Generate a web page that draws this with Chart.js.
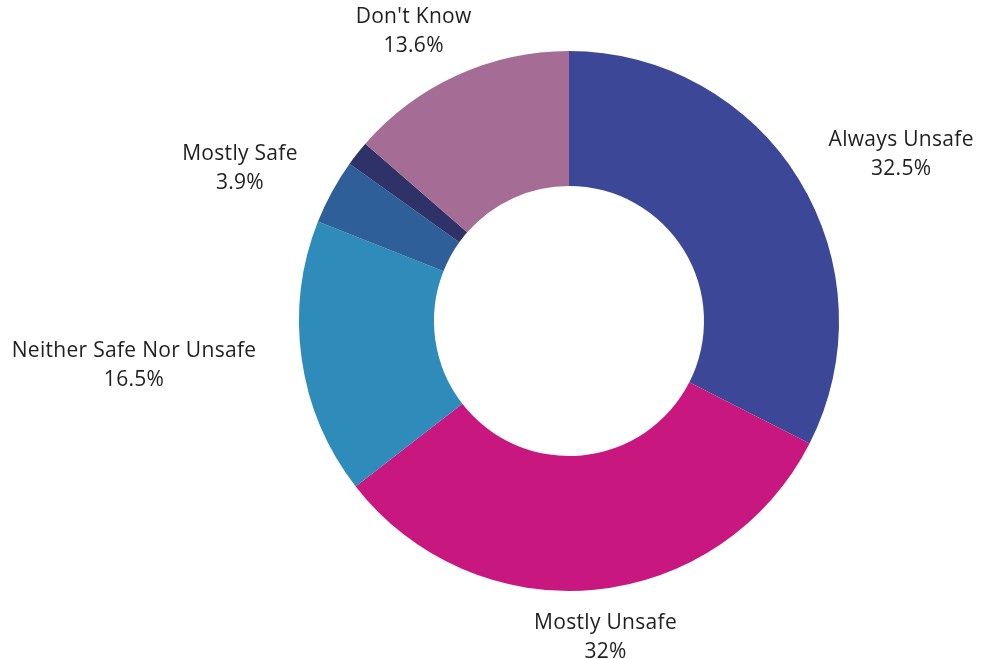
<!DOCTYPE html>
<html>
<head>
<meta charset="utf-8">
<script src="https://cdn.jsdelivr.net/npm/chart.js@4/dist/chart.umd.min.js"></script>
<style>
  html, body { margin: 0; padding: 0; background: #fff; }
  #wrap { width: 989px; height: 659px; position: relative; }
</style>
</head>
<body>
<div id="wrap"><canvas id="myChart"></canvas></div>
<script>
const categories = ['Always Unsafe', 'Mostly Unsafe', 'Neither Safe Nor Unsafe', 'Mostly Safe', '', "Don't Know"];
const shares = [32.5, 32, 16.5, 3.9, 1.5, 13.6];
const sliceColors = ['#3c4798', '#c8177f', '#2e8bba', '#2e5f98', '#2e3268', '#a56d96'];

const LABEL_FONT = '21px "Open Sans", sans-serif';
const LINE_H = 29;

// labels outside the ring; wider gap sideways than up/down
const outsideLabels = {
    id: 'outsideLabels',
    afterDatasetsDraw(chart) {
        const c = chart.ctx;
        const meta = chart.getDatasetMeta(0);
        c.save();
        c.font = LABEL_FONT;
        c.letterSpacing = '0.3px';
        c.fillStyle = '#1f1f1f';
        c.textAlign = 'center';
        c.textBaseline = 'middle';
        meta.data.forEach((arc, i) => {
            if (!categories[i]) return;
            const { x, y, startAngle, endAngle, outerRadius } = arc.getProps(['x', 'y', 'startAngle', 'endAngle', 'outerRadius'], true);
            const mid = (startAngle + endAngle) / 2;
            const lines = [categories[i], shares[i] + '%'];
            const hw = Math.max(...lines.map(l => c.measureText(l).width)) / 2;
            const hh = 24;
            const gx = 47, gy = 24;
            const cx = x + Math.cos(mid) * (outerRadius + gx + hw);
            const cy = y + Math.sin(mid) * (outerRadius + gy + hh);
            lines.forEach((l, k) => {
                c.fillText(l, cx, cy + (k - (lines.length - 1) / 2) * LINE_H);
            });
        });
        c.restore();
    }
};

new Chart(document.getElementById('myChart'), {
    type: 'doughnut',
    data: {
        labels: categories,
        datasets: [{
            data: shares,
            backgroundColor: sliceColors,
            borderWidth: 0
        }]
    },
    options: {
        responsive: true,
        maintainAspectRatio: false,
        animation: false,
        cutout: '50%',
        layout: { padding: { top: 51, bottom: 68, left: 200, right: 51 } },
        plugins: {
            legend: { display: false },
            tooltip: { enabled: false }
        }
    },
    plugins: [outsideLabels]
});
</script>
</body>
</html>
